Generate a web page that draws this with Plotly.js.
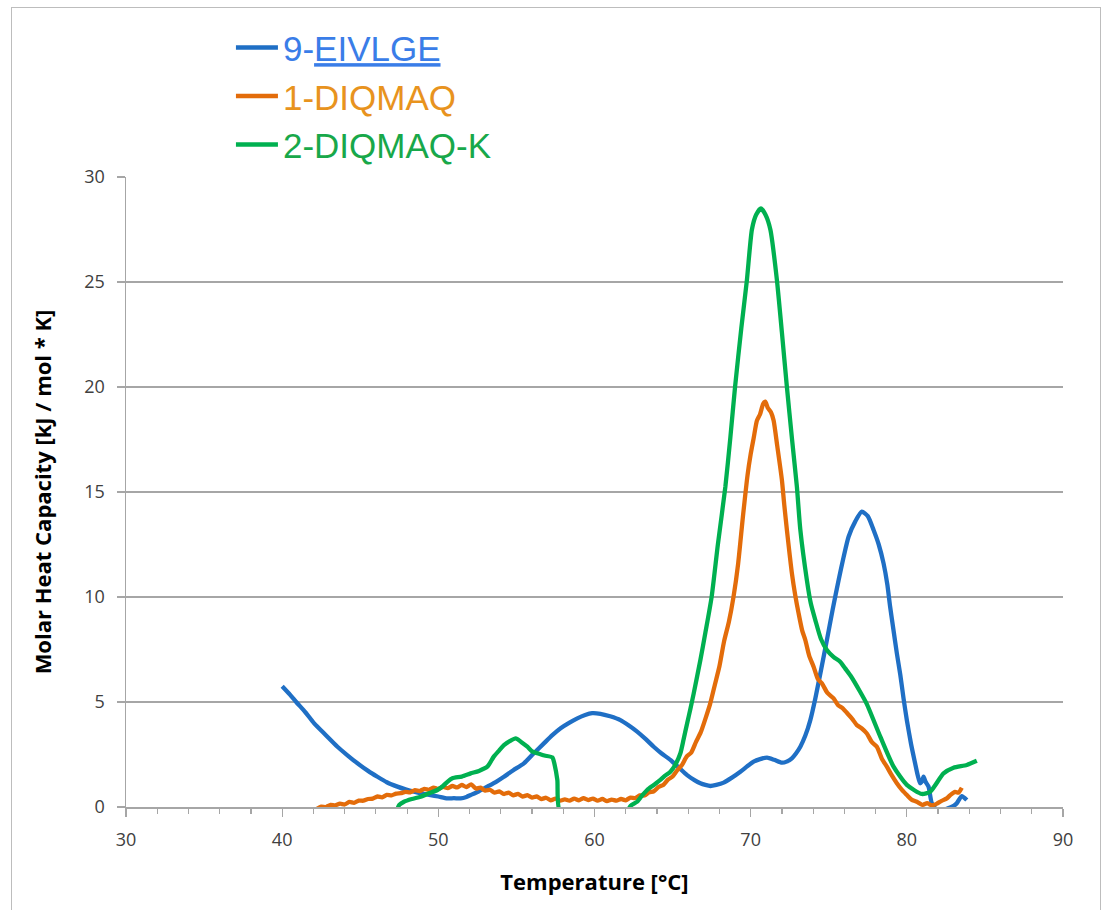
<!DOCTYPE html>
<html>
<head>
<meta charset="utf-8">
<script src="https://cdn.plot.ly/plotly-3.0.1.min.js"></script>
<style>
  html, body { margin: 0; padding: 0; background: #fff; }
  #wrap { position: relative; width: 1111px; height: 910px; overflow: hidden; }
  #frame { position: absolute; left: 11px; top: 7px; width: 1090px; height: 920px; border: 1.5px solid #bdbdbd; box-sizing: border-box; pointer-events: none; }
  #chart { position: absolute; left: 0; top: 0; width: 1111px; height: 910px; }
</style>
</head>
<body>
<div id="wrap">
  <div id="chart"></div>
  <div id="frame"></div>
</div>
<script>
// ---- Data ----
const seriesNames = ['9-EIVLGE', '1-DIQMAQ', '2-DIQMAQ-K'];

const blueT = [40.0, 40.5, 40.9, 41.5, 42.05, 42.8, 43.54, 44.2, 44.82, 45.5, 46.1, 46.7, 47.38, 47.9, 48.44, 49.0, 49.5, 50.0, 50.58, 51.0,
  51.43, 51.8, 52.07, 52.6, 53.14, 53.7, 54.2, 54.8, 55.48, 56.1, 56.76, 57.3, 57.83, 58.4, 58.9, 59.4, 59.85, 60.38, 61.0, 61.66,
  62.2, 62.73, 63.3, 63.79, 64.3, 64.86, 65.4, 65.93, 66.4, 66.78, 67.1, 67.42, 67.8, 68.27, 68.8, 69.34, 69.8, 70.19, 70.6, 71.05,
  71.5, 72.0, 72.3, 72.64, 72.9, 73.18, 73.5, 73.82, 74.14, 74.5, 74.88, 75.25, 75.63, 75.95, 76.27, 76.7, 77.12, 77.5, 77.87, 78.2,
  78.51, 78.75, 78.93, 79.15, 79.36, 79.58, 79.79, 80.0, 80.27, 80.53, 80.7, 80.85, 80.95, 81.07, 81.2, 81.39, 81.6, 82.0, 82.5, 83.0,
  83.2, 83.52, 83.84];
const blueV = [5.75, 5.35, 5.0, 4.5, 3.98, 3.42, 2.87, 2.45, 2.08, 1.72, 1.44, 1.18, 0.97, 0.84, 0.73, 0.64, 0.57, 0.5, 0.41, 0.42,
  0.41, 0.48, 0.57, 0.75, 0.97, 1.2, 1.44, 1.75, 2.08, 2.55, 3.03, 3.42, 3.75, 4.02, 4.22, 4.38, 4.47, 4.44, 4.32, 4.14,
  3.88, 3.59, 3.22, 2.87, 2.55, 2.24, 1.88, 1.52, 1.28, 1.13, 1.05, 1.0, 1.05, 1.16, 1.4, 1.68, 1.95, 2.16, 2.28, 2.35,
  2.25, 2.11, 2.16, 2.32, 2.55, 2.87, 3.4, 4.14, 5.17, 6.5, 7.95, 9.4, 10.8, 11.9, 12.87, 13.6, 14.06, 13.85, 13.19, 12.5,
  11.6, 10.6, 9.54, 8.4, 7.32, 6.3, 5.17, 4.14, 3.0, 2.08, 1.5, 1.13, 1.2, 1.44, 1.2, 0.97, 0.18, -0.2, -0.1, 0.05,
  0.18, 0.52, 0.33];

const orangeT = [42.2, 42.5, 42.8, 43.1, 43.4, 43.7, 44.0, 44.3, 44.6, 44.9, 45.2, 45.5, 45.8, 46.1, 46.4, 46.7, 47.0, 47.3, 47.6, 47.9,
  48.2, 48.5, 48.8, 49.1, 49.4, 49.7, 50.0, 50.3, 50.6, 50.9, 51.2, 51.5, 51.8, 52.1, 52.4, 52.7, 53.0, 53.3, 53.6, 53.9,
  54.2, 54.5, 54.8, 55.1, 55.4, 55.7, 56.0, 56.3, 56.6, 56.9, 57.2, 57.5, 57.8, 58.1, 58.4, 58.7, 59.0, 59.3, 59.6, 59.9,
  60.2, 60.5, 60.8, 61.1, 61.4, 61.7, 62.0, 62.3, 62.6, 62.9, 63.2, 63.5, 63.8, 64.1, 64.4, 64.7, 65.0, 65.3, 65.6, 65.9,
  66.2, 66.5, 66.8, 67.1, 67.4, 67.7, 68.0, 68.3, 68.6, 68.9, 69.2, 69.5, 69.8, 70.0, 70.2, 70.4, 70.6, 70.8, 70.94, 71.1,
  71.3, 71.47, 71.7, 72.0, 72.15, 72.32, 72.5, 72.64, 72.85, 73.07, 73.3, 73.5, 73.75, 74.03, 74.3, 74.56, 74.9, 75.31, 75.6, 75.9,
  76.2, 76.5, 76.8, 77.1, 77.44, 77.75, 78.08, 78.4, 78.72, 79.0, 79.36, 79.7, 80.0, 80.3, 80.64, 81.0, 81.3, 81.6, 81.9, 82.2,
  82.56, 82.8, 83.09, 83.3, 83.52];
const orangeV = [-0.1, 0.02, 0.0, 0.1, 0.08, 0.16, 0.12, 0.24, 0.2, 0.3, 0.3, 0.38, 0.4, 0.5, 0.46, 0.58, 0.55, 0.64, 0.66, 0.72,
  0.7, 0.8, 0.76, 0.86, 0.82, 0.92, 0.86, 0.96, 0.9, 1.0, 0.93, 1.05, 0.95, 1.08, 0.88, 0.92, 0.78, 0.82, 0.68, 0.74,
  0.62, 0.68, 0.56, 0.62, 0.5, 0.56, 0.45, 0.5, 0.38, 0.44, 0.32, 0.4, 0.3, 0.36, 0.3, 0.4, 0.32, 0.42, 0.33, 0.4,
  0.3, 0.38, 0.28, 0.35, 0.3, 0.38, 0.32, 0.45, 0.42, 0.55, 0.55, 0.7, 0.75, 0.95, 1.05, 1.3, 1.45, 1.75, 2.0, 2.4,
  2.6, 3.1, 3.55, 4.2, 4.9, 5.8, 6.7, 7.9, 8.8, 10.0, 11.6, 13.8, 15.8, 16.8, 17.6, 18.4, 18.7, 19.2, 19.3, 19.0,
  18.8, 18.4, 17.2, 15.57, 14.4, 13.19, 12.0, 11.13, 10.1, 9.22, 8.4, 7.95, 7.2, 6.68, 6.1, 5.89, 5.45, 5.17, 4.85, 4.7,
  4.45, 4.2, 3.9, 3.75, 3.5, 3.1, 2.87, 2.3, 1.92, 1.55, 1.13, 0.8, 0.57, 0.35, 0.25, 0.1, 0.18, 0.08, 0.15, 0.28,
  0.41, 0.58, 0.72, 0.68, 0.92];

const greenT = [47.27, 47.5, 47.8, 48.3, 48.87, 49.4, 49.94, 50.3, 50.58, 50.9, 51.5, 52.07, 52.6, 53.14, 53.55, 53.9, 54.2, 54.6, 54.95, 55.3,
  55.7, 56.0, 56.34, 56.8, 57.3, 57.45, 57.62, 57.83, 62.0, 62.3, 62.73, 63.05, 63.37, 63.8, 64.22, 64.5, 64.86, 65.2, 65.5, 65.7,
  65.93, 66.15, 66.35, 66.78, 67.1, 67.5, 67.9, 68.38, 68.7, 69.0, 69.4, 69.76, 70.08, 70.35, 70.66, 70.95, 71.26, 71.68, 72.0, 72.32,
  72.65, 72.96, 73.18, 73.6, 73.85, 74.14, 74.5, 74.88, 75.3, 75.73, 76.05, 76.4, 77.0, 77.44, 78.3, 79.15, 80.0, 80.96, 81.5, 82.35,
  82.99, 83.84, 84.48];
const greenV = [-0.3, 0.1, 0.25, 0.38, 0.49, 0.65, 0.81, 1.0, 1.2, 1.37, 1.45, 1.6, 1.72, 1.92, 2.4, 2.7, 2.95, 3.15, 3.27, 3.1,
  2.87, 2.65, 2.56, 2.45, 2.36, 2.0, 1.29, -0.3, -0.3, 0.05, 0.25, 0.55, 0.81, 1.05, 1.29, 1.48, 1.68, 2.05, 2.56, 3.2,
  3.98, 4.7, 5.4, 7.0, 8.3, 10.0, 12.5, 15.25, 17.6, 20.0, 22.8, 25.1, 27.5, 28.2, 28.5, 28.2, 27.5, 25.1, 22.6, 20.0,
  17.5, 15.25, 13.2, 10.8, 9.7, 8.9, 8.0, 7.48, 7.15, 6.92, 6.6, 6.25, 5.5, 4.9, 3.35, 1.92, 1.05, 0.62, 0.73, 1.6,
  1.87, 2.0, 2.2];

// ---- Styles ----
const lineColors = ['#1F6FC5', '#E36C0A', '#00B050'];
const textColors = ['#3A7DE8', '#E8931E', '#18A84A'];

const legendLabels = [
  '<span style="color:' + textColors[0] + '">9-<span style="text-decoration:underline">EIVLGE</span></span>',
  '<span style="color:' + textColors[1] + '">' + seriesNames[1] + '</span>',
  '<span style="color:' + textColors[2] + '">' + seriesNames[2] + '</span>'
];

const xs = [blueT, orangeT, greenT];
const ys = [blueV, orangeV, greenV];

const traces = xs.map((x, i) => ({
  type: 'scatter',
  mode: 'lines',
  x: x,
  y: ys[i],
  name: legendLabels[i],
  line: { color: lineColors[i], width: 4.3, shape: 'spline', smoothing: 0.6 },
  cliponaxis: true,
  hoverinfo: 'x+y'
}));

const layout = {
  width: 1111,
  height: 910,
  margin: { l: 126, r: 48, t: 177, b: 103, autoexpand: false },
  paper_bgcolor: 'rgba(0,0,0,0)',
  plot_bgcolor: '#ffffff',
  font: { family: 'Open Sans, sans-serif', color: '#404040' },
  showlegend: true,
  legend: {
    x: 0.112, y: 1.252, xanchor: 'left', yanchor: 'top',
    bgcolor: 'rgba(0,0,0,0)',
    font: { family: 'Liberation Sans, Arial, sans-serif', size: 35 },
    itemwidth: 42,
    traceorder: 'normal'
  },
  xaxis: {
    range: [30, 90],
    dtick: 10,
    tick0: 30,
    showgrid: false,
    zeroline: false,
    showline: true,
    linecolor: '#a6a6a6',
    linewidth: 1.5,
    ticks: 'outside',
    ticklen: 8,
    tickwidth: 1.3,
    tickcolor: '#a6a6a6',
    ticklabelstandoff: 8,
    minor: { dtick: 2, ticks: 'outside', ticklen: 5, tickwidth: 1.2, tickcolor: '#a6a6a6', showgrid: false },
    tickfont: { size: 18, color: '#404040' },
    title: { text: 'Temperature [°C]', font: { size: 22, color: '#000000', family: 'Open Sans, sans-serif', weight: 'bold' }, standoff: 24 }
  },
  yaxis: {
    range: [0, 30],
    dtick: 5,
    tick0: 0,
    showgrid: true,
    gridcolor: '#a6a6a6',
    gridwidth: 1.5,
    zeroline: false,
    showline: true,
    linecolor: '#a6a6a6',
    linewidth: 1.5,
    ticks: 'outside',
    ticklen: 8,
    tickwidth: 1.3,
    tickcolor: '#a6a6a6',
    ticklabelstandoff: 8,
    tickfont: { size: 18, color: '#404040' },
    title: { text: 'Molar Heat Capacity [kJ / mol * K]', font: { size: 22, color: '#000000', family: 'Open Sans, sans-serif', weight: 'bold' }, standoff: 26 }
  }
};

Plotly.newPlot('chart', traces, layout, { displayModeBar: false, staticPlot: true });
</script>
</body>
</html>
